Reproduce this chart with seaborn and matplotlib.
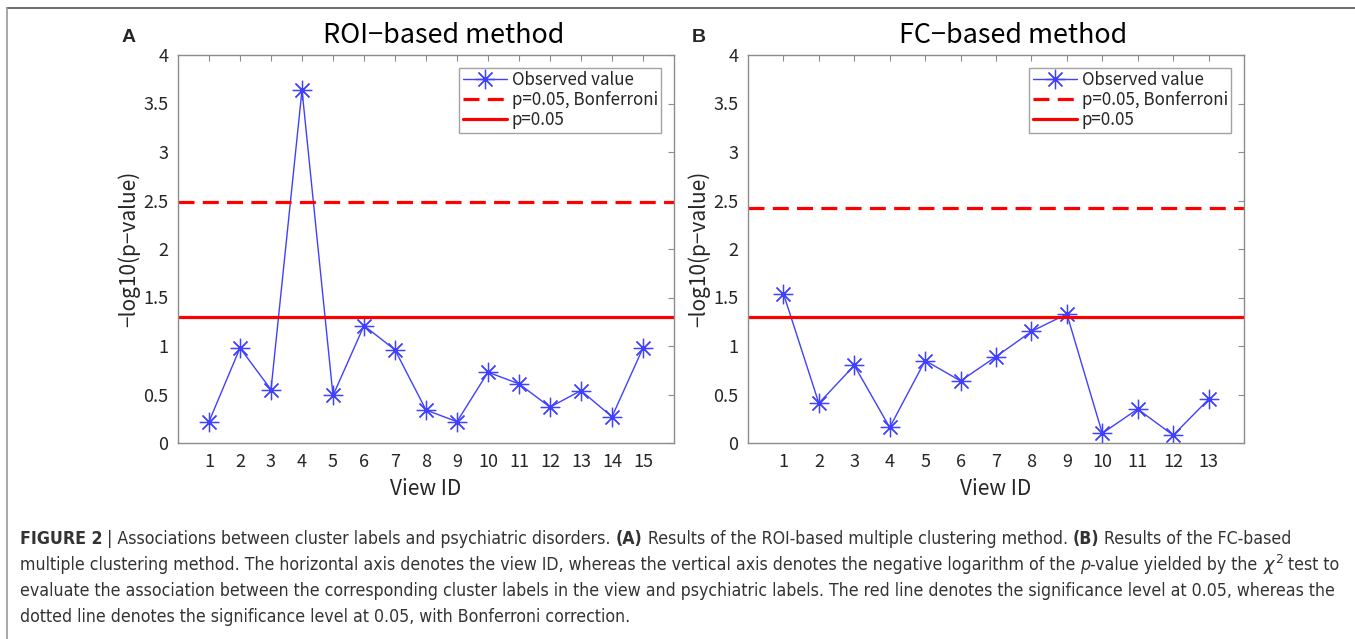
import numpy as np
import pandas as pd
import matplotlib
matplotlib.use("Agg")
import matplotlib.pyplot as plt
import seaborn as sns
from matplotlib import font_manager
from matplotlib.ticker import FuncFormatter
from matplotlib.lines import Line2D

# === 1. Данные ===
roi_views = list(range(1, 16))
roi_values = [0.22, 0.98, 0.55, 3.64, 0.49, 1.21, 0.96, 0.34, 0.22, 0.73, 0.61, 0.37, 0.54, 0.27, 0.98]
roi_bonferroni = 2.48

fc_views = list(range(1, 14))
fc_values = [1.54, 0.41, 0.80, 0.16, 0.85, 0.64, 0.89, 1.15, 1.33, 0.10, 0.35, 0.08, 0.45]
fc_bonferroni = 2.42

p_005 = 1.30

panel_letters = ["A", "B"]
panel_titles = ["ROI−based method", "FC−based method"]
legend_labels = ["Observed value", "p=0.05, Bonferroni", "p=0.05"]
y_ticks = [0, 0.5, 1, 1.5, 2, 2.5, 3, 3.5, 4]

# === 2. Стиль ===
sns.set_style("white")
plt.rcParams['font.family'] = ['Noto Sans CJK JP', 'DejaVu Sans']
plt.rcParams['axes.unicode_minus'] = False

W, H = 1355, 639
fig = plt.figure(figsize=(W / 100, H / 100), dpi=100)

BLUE = "#4040ff"
RED = "#ff0000"
GRAY = "#8c8c8c"
TXT = "#262626"

panels = [
    (roi_views, roi_values, roi_bonferroni, 178),
    (fc_views, fc_values, fc_bonferroni, 748),
]

for i, (views, vals, bonf, left_px) in enumerate(panels):
    ax = fig.add_axes([left_px / W, (H - 443) / H, 496 / W, 388 / H])
    df = pd.DataFrame({"view": views, "value": vals})
    sns.lineplot(data=df, x="view", y="value", ax=ax, color=BLUE, linewidth=1,
                 marker=(8, 2, 0), markersize=14, markeredgewidth=0.9,
                 markeredgecolor=BLUE, label=legend_labels[0])
    ax.axhline(bonf, color=RED, linewidth=2.3, dashes=(5, 2.6), label=legend_labels[1])
    ax.axhline(p_005, color=RED, linewidth=2.3, label=legend_labels[2])

    ax.set_xlim(0, len(views) + 1)
    ax.set_ylim(0, 4)
    ax.set_xticks(views)
    ax.set_yticks(y_ticks)
    ax.yaxis.set_major_formatter(FuncFormatter(lambda v, _: f"{v:g}"))
    ax.tick_params(direction="in", length=4, width=0.8, color=GRAY,
                   top=True, right=True, labelsize=13, labelcolor=TXT, pad=7)
    for s in ax.spines.values():
        s.set_color(GRAY)
        s.set_linewidth(1)

    ax.set_xlabel("View ID", fontsize=15, color=TXT, labelpad=5)
    ax.set_ylabel("−log10(p−value)", fontsize=15, color=TXT, labelpad=2)
    ax.text(0.535, 1.015, panel_titles[i], transform=ax.transAxes, ha="center",
            va="bottom", fontsize=19.4, color="black")
    ax.text(-0.1, 1.044, panel_letters[i], transform=ax.transAxes, ha="center",
            va="center", fontsize=14, fontweight="bold", family=["Liberation Sans", "DejaVu Sans"])

    leg = ax.legend(loc="upper right", fontsize=12.2, frameon=True, fancybox=False,
                    handlelength=2.6, handletextpad=0.3, borderpad=0.2,
                    labelspacing=0.12, borderaxespad=0.75)
    leg.get_frame().set_edgecolor(GRAY)
    leg.get_frame().set_linewidth(1)
    for t in leg.get_texts():
        t.set_color(TXT)

# === 3. Рамка и подпись ===
fig.add_artist(Line2D([7 / W, 1], [1 - 8 / H, 1 - 8 / H], transform=fig.transFigure,
                      color="#555555", linewidth=1.2))
fig.add_artist(Line2D([7 / W, 7 / W], [0, 1 - 8 / H], transform=fig.transFigure,
                      color="#999999", linewidth=1.2))

# узкий шрифт для подписи, если он есть
font_names = {f.name for f in font_manager.fontManager.ttflist}
dejavu_cond = any(f.name == "DejaVu Sans" and str(f.stretch) in ("condensed", "semi-condensed")
                  for f in font_manager.fontManager.ttflist)
if "Liberation Sans Narrow" in font_names:
    cap_family, cap_stretch = ["Liberation Sans Narrow"], "normal"
elif dejavu_cond:
    cap_family, cap_stretch = ["DejaVu Sans"], "condensed"
else:
    cap_family, cap_stretch = ["Liberation Sans", "DejaVu Sans"], "normal"

caption_lines = [
    [("FIGURE 2", "bold", "normal"), (" | Associations between cluster labels and psychiatric disorders. ", "normal", "normal"),
     ("(A)", "bold", "normal"), (" Results of the ROI-based multiple clustering method. ", "normal", "normal"),
     ("(B)", "bold", "normal"), (" Results of the FC-based", "normal", "normal")],
    [("multiple clustering method. The horizontal axis denotes the view ID, whereas the vertical axis denotes the negative logarithm of the ", "normal", "normal"),
     ("p", "normal", "italic"), ("-value yielded by the ", "normal", "normal"),
     (r"$\chi^2$", "normal", "normal"), (" test to", "normal", "normal")],
    [("evaluate the association between the corresponding cluster labels in the view and psychiatric labels. The red line denotes the significance level at 0.05, whereas the", "normal", "normal")],
    [("dotted line denotes the significance level at 0.05, with Bonferroni correction.", "normal", "normal")],
]
caption_y = [539, 565, 591, 617]

renderer = fig.canvas.get_renderer()


def text_width(s, size, weight="normal", style="normal"):
    t = fig.text(0, 0, s, fontsize=size, family=cap_family, fontstretch=cap_stretch,
                 fontweight=weight, fontstyle=style)
    w = t.get_window_extent(renderer).width
    t.remove()
    return w


# подбираем размер так, чтобы третья строка заняла ту же ширину, что в оригинале
cap_size = 13 * 1315 / text_width(caption_lines[2][0][0], 13)
space_w = text_width("x x", cap_size) - text_width("xx", cap_size)

for runs, yp in zip(caption_lines, caption_y):
    x = 20.0
    for s, weight, style in runs:
        lead = len(s) - len(s.lstrip(" "))
        trail = len(s) - len(s.rstrip(" "))
        core = s.strip(" ")
        x += lead * space_w
        t = fig.text(x / W, (H - yp) / H, core, fontsize=cap_size, family=cap_family,
                     fontstretch=cap_stretch, fontweight=weight, fontstyle=style,
                     color="#333333", va="center", ha="left")
        x += t.get_window_extent(renderer).width + trail * space_w

fig.savefig("out.png", dpi=100)
